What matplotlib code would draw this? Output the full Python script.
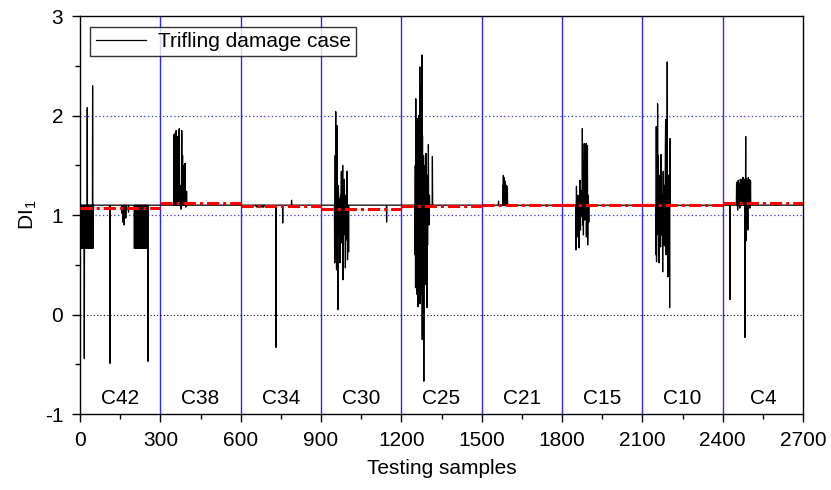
import numpy as np
import matplotlib
matplotlib.use('Agg')
import matplotlib.pyplot as plt
from matplotlib.ticker import MultipleLocator

plt.rcParams['font.family'] = ['Liberation Sans', 'DejaVu Sans']
plt.rcParams['mathtext.default'] = 'regular'
plt.rcParams['axes.unicode_minus'] = False

n_samples = 2700
baseline = 1.10
boundaries = [300, 600, 900, 1200, 1500, 1800, 2100, 2400]
cases = ['C42', 'C38', 'C34', 'C30', 'C25', 'C21', 'C15', 'C10', 'C4']
thresholds = [1.067, 1.125, 1.09, 1.065, 1.09, 1.10, 1.10, 1.10, 1.125]

# spikes: (sample index, DI1 value)
c42_idx = [2, 4, 6, 8, 10, 12, 14, 16, 18, 20, 22, 24, 26, 27, 28, 30, 32, 34, 36,
           38, 40, 42, 44, 46, 47, 48, 50, 112, 156, 160, 165, 171, 181,
           203, 205, 208, 210, 212, 215, 217, 220, 222, 224, 227, 229, 232, 234,
           236, 239, 241, 244, 246, 249, 254]
c42_val = [0.665, 0.665, 0.665, 0.70, 0.665, 0.665, 0.665, -0.44, 0.665, 0.665, 0.70,
           0.665, 0.665, 2.08, 0.665, 0.665, 0.70, 0.665, 0.665, 0.78, 0.665, 0.665,
           0.80, 0.665, 2.30, 0.665, 1.05, -0.49, 1.02, 0.93, 0.90, 0.97, 1.03,
           0.665, 0.665, 0.70, 0.665, 0.665, 0.665, 0.70, 0.665, 0.665, 0.665, 0.665,
           0.68, 0.665, 0.665, 0.665, 0.665, 0.70, 0.665, 0.665, 0.665, -0.47]

c38_idx = [351, 353, 355, 357, 359, 361, 363, 365, 367, 369, 371, 374, 377, 380,
           383, 386, 389, 392, 395, 398]
c38_val = [1.81, 1.20, 1.82, 1.70, 1.85, 1.15, 1.78, 1.79, 1.40, 1.86, 1.87, 1.30,
           1.06, 1.85, 1.60, 1.50, 1.15, 1.52, 1.08, 1.24]

c34_idx = [655, 660, 665, 670, 675, 680, 685, 690, 732, 757, 790]
c34_val = [1.09, 1.08, 1.08, 1.08, 1.08, 1.08, 1.08, 1.09, -0.33, 0.92, 1.15]

c30_idx = [951, 953, 955, 957, 958, 960, 962, 963, 965, 967, 968, 971, 973, 976,
           977, 979, 981, 982, 985, 987, 989, 991, 993, 995, 997, 999, 1001, 1003,
           1005, 1145]
c30_val = [0.52, 1.60, 2.04, 0.60, 0.45, 1.90, 0.70, 0.05, 1.30, 0.80, 1.17, 0.52,
           1.20, 1.44, 0.72, 1.30, 1.50, 0.35, 0.80, 1.36, 0.90, 0.47, 1.20, 0.75,
           1.44, 0.55, 1.00, 0.63, 1.10, 0.93]

c25_idx = [1251, 1252, 1253, 1254, 1255, 1256, 1257, 1258, 1259, 1260, 1261, 1262,
           1263, 1264, 1265, 1266, 1267, 1268, 1269, 1270, 1271, 1272, 1273, 1274,
           1275, 1276, 1277, 1278, 1279, 1280, 1281, 1282, 1283, 1284, 1285, 1286,
           1287, 1288, 1289, 1290, 1291, 1292, 1293, 1294, 1295, 1296, 1297, 1298,
           1299, 1301, 1303, 1305, 1316]
c25_val = [0.60, 1.50, 0.27, 2.17, 0.50, 1.80, 0.40, 1.60, 0.20, 1.97, 0.45, 0.08,
           1.70, 0.30, 2.00, 0.50, 1.40, 0.20, 2.49, 0.11, 1.60, 0.30, 2.30, 0.40,
           1.90, 0.20, 2.61, -0.25, 1.80, 0.30, 1.48, 0.10, 1.60, -0.67, 1.50, 0.40,
           1.20, 0.30, 1.50, 0.60, 0.40, 1.62, 0.50, 1.30, 0.60, 0.07, 1.40, 0.70,
           1.20, 1.71, 0.90, 1.20, 1.59]

c21_idx = [1563, 1579, 1581, 1583, 1585, 1588, 1591, 1596]
c21_val = [1.14, 1.30, 1.40, 1.38, 1.36, 1.34, 1.30, 1.29]

c15_idx = [1852, 1854, 1857, 1859, 1862, 1864, 1866, 1867, 1869, 1871, 1873, 1876,
           1878, 1880, 1882, 1883, 1885, 1887, 1890, 1891, 1893, 1895, 1896, 1898, 1900]
c15_val = [0.65, 1.29, 0.78, 1.20, 0.90, 0.67, 1.30, 1.35, 0.85, 1.25, 0.99, 1.87,
           0.90, 0.80, 1.50, 1.72, 0.95, 1.40, 1.72, 0.78, 1.30, 1.70, 0.70, 1.20, 0.93]

c10_idx = [2151, 2152, 2153, 2155, 2157, 2159, 2160, 2162, 2164, 2166, 2168, 2170,
           2172, 2174, 2176, 2178, 2180, 2182, 2184, 2186, 2187, 2189, 2191, 2193,
           2194, 2196, 2198, 2200, 2202, 2203, 2205]
c10_val = [0.60, 1.89, 0.53, 1.70, 2.12, 0.80, 1.60, 0.52, 1.40, 0.90, 0.68, 1.61,
           0.80, 1.20, 0.43, 1.44, 0.70, 1.30, 0.69, 1.70, 1.96, 0.60, 1.50, 2.54,
           0.80, 0.38, 1.40, 0.60, 0.07, 1.77, 1.10]

c4_idx = [2427, 2452, 2454, 2456, 2458, 2460, 2462, 2464, 2466, 2468, 2470, 2472,
          2474, 2476, 2478, 2480, 2483, 2486, 2487, 2489, 2491, 2494, 2496, 2498,
          2500, 2502, 2504]
c4_val = [0.15, 1.33, 1.30, 1.05, 1.35, 1.32, 1.20, 1.07, 1.36, 1.34, 1.30, 1.36,
          1.33, 1.38, 1.30, 1.36, -0.23, 1.79, 0.74, 1.37, 1.35, 0.85, 1.38, 1.36,
          1.30, 1.07, 1.35]

signal = np.full(n_samples, baseline)
for idx, val in [(c42_idx, c42_val), (c38_idx, c38_val), (c34_idx, c34_val),
                 (c30_idx, c30_val), (c25_idx, c25_val), (c21_idx, c21_val),
                 (c15_idx, c15_val), (c10_idx, c10_val), (c4_idx, c4_val)]:
    signal[idx] = val
samples = np.arange(n_samples)

fig = plt.figure(figsize=(8.31, 4.90), dpi=100)
ax = fig.add_axes([0.0963, 0.155, 0.87, 0.812])

for b in boundaries:
    ax.axvline(b, color='#2a2aff', lw=1.0, zorder=1)
ax.axhline(0, color='black', lw=0.8, ls=(0, (1, 2)), zorder=1)
for yv in [1, 2]:
    ax.axhline(yv, color='#3030ff', lw=0.9, ls=(0, (1, 2)), zorder=1)

ax.plot(samples, signal, color='black', lw=0.9, zorder=2, label='Trifling damage case')

edges = [0] + boundaries + [n_samples]
for i, t in enumerate(thresholds):
    ax.plot([edges[i], edges[i + 1]], [t, t], color='red', lw=2.2,
            ls=(0, (4, 1.3, 1, 1.3)), zorder=3)

for i, name in enumerate(cases):
    ax.text((edges[i] + edges[i + 1]) / 2, -0.84, name, ha='center', va='center',
            fontsize=15)

ax.set_xlim(0, 2700)
ax.set_ylim(-1, 3)
ax.xaxis.set_major_locator(MultipleLocator(300))
ax.xaxis.set_minor_locator(MultipleLocator(150))
ax.yaxis.set_major_locator(MultipleLocator(1))
ax.yaxis.set_minor_locator(MultipleLocator(0.5))
ax.tick_params(which='major', direction='out', length=6, width=1, labelsize=15, pad=6)
ax.tick_params(which='minor', direction='out', length=3.5, width=1)
for s in ax.spines.values():
    s.set_linewidth(1)
ax.set_xlabel('Testing samples', fontsize=15, labelpad=7)
ax.set_ylabel('DI$_1$', fontsize=15, labelpad=4)

leg = ax.legend(loc='upper left', fontsize=15, frameon=True, fancybox=False,
                handlelength=2.4, handletextpad=0.6, borderpad=0.25, borderaxespad=0.5)
leg.get_frame().set_edgecolor('black')
leg.get_frame().set_linewidth(1)

fig.savefig('out.png', dpi=100)
